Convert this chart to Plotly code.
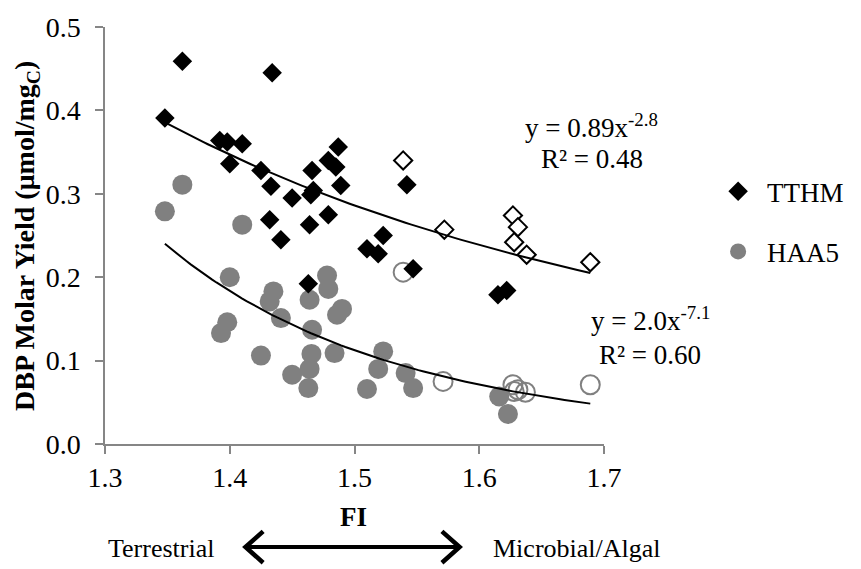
import numpy as np
import plotly.graph_objects as go

# ---------------- data ----------------
tthm_fi = [1.348, 1.362, 1.434, 1.392, 1.398, 1.410, 1.400, 1.425, 1.433, 1.450,
           1.466, 1.465, 1.467, 1.487, 1.479, 1.485, 1.489, 1.432, 1.464, 1.479,
           1.441, 1.463, 1.510, 1.519, 1.523, 1.542, 1.547, 1.615, 1.622]
tthm_y = [0.391, 0.459, 0.445, 0.364, 0.362, 0.360, 0.336, 0.328, 0.309, 0.295,
          0.328, 0.299, 0.304, 0.356, 0.340, 0.332, 0.310, 0.269, 0.263, 0.275,
          0.245, 0.192, 0.234, 0.228, 0.250, 0.311, 0.210, 0.179, 0.184]

tthm_open_fi = [1.539, 1.572, 1.627, 1.631, 1.628, 1.638, 1.689]
tthm_open_y = [0.340, 0.257, 0.274, 0.260, 0.242, 0.227, 0.218]

haa5_fi = [1.348, 1.362, 1.410, 1.400, 1.435, 1.432, 1.441, 1.398, 1.393, 1.425,
           1.478, 1.479, 1.464, 1.490, 1.486, 1.466, 1.4655, 1.484, 1.464, 1.450,
           1.463, 1.510, 1.519, 1.523, 1.541, 1.547, 1.616, 1.623]
haa5_y = [0.279, 0.311, 0.263, 0.200, 0.183, 0.171, 0.151, 0.146, 0.133, 0.106,
          0.202, 0.186, 0.173, 0.162, 0.155, 0.137, 0.108, 0.109, 0.090, 0.083,
          0.067, 0.066, 0.090, 0.111, 0.085, 0.067, 0.057, 0.036]

haa5_open_fi = [1.539, 1.571, 1.627, 1.631, 1.628, 1.637, 1.689]
haa5_open_y = [0.206, 0.075, 0.071, 0.065, 0.063, 0.062, 0.071]

# power-law fit coefficients (y = a * x^b)
tthm_fit = (0.89, -2.8)
haa5_fit = (2.0, -7.1)
tthm_eq = ["y = 0.89x<sup>-2.8</sup>", "R² = 0.48"]
haa5_eq = ["y = 2.0x<sup>-7.1</sup>", "R² = 0.60"]

x_ticks = [1.3, 1.4, 1.5, 1.6, 1.7]
y_ticks = [0.0, 0.1, 0.2, 0.3, 0.4, 0.5]

# ---------------- figure ----------------
FONT = "Liberation Serif, Times New Roman, serif"
GRAY = "#808080"
AXC = "#868686"

W, H = 861, 569
ML, MR, MT, MB = 105, 248, 19, 125
PW, PH = W - ML - MR, H - MT - MB


def px(x):
    return (x - ML) / PW


def py(y):
    return (H - MB - y) / PH


all_fi = tthm_fi + tthm_open_fi
xf = np.linspace(min(all_fi), max(all_fi), 100)

fig = go.Figure()

fig.add_trace(go.Scatter(x=haa5_fi, y=haa5_y, mode="markers", name="HAA5",
                         legendgroup="b", legendrank=2,
                         marker=dict(symbol="circle", size=20, color=GRAY,
                                     line=dict(width=0))))
fig.add_trace(go.Scatter(x=haa5_open_fi, y=haa5_open_y, mode="markers",
                         showlegend=False,
                         marker=dict(symbol="circle", size=19, color="rgba(255,255,255,0)",
                                     line=dict(width=2, color=GRAY))))
fig.add_trace(go.Scatter(x=tthm_fi, y=tthm_y, mode="markers", name="TTHM",
                         legendgroup="a", legendrank=1,
                         marker=dict(symbol="diamond", size=15, color="black",
                                     line=dict(width=0))))
fig.add_trace(go.Scatter(x=tthm_open_fi, y=tthm_open_y, mode="markers",
                         showlegend=False,
                         marker=dict(symbol="diamond", size=14, color="white",
                                     line=dict(width=2, color="black"))))
for a, b in (tthm_fit, haa5_fit):
    fig.add_trace(go.Scatter(x=xf, y=a * xf ** b, mode="lines", showlegend=False,
                             line=dict(color="black", width=2), hoverinfo="skip"))

ann = []
for txt, xx, yy in ((tthm_eq[0], 600, 120), (tthm_eq[1], 601, 154),
                    (haa5_eq[0], 660, 317), (haa5_eq[1], 660, 353)):
    ann.append(dict(text=txt, x=px(xx), y=py(yy), xref="paper", yref="paper",
                    xanchor="center", yanchor="middle", showarrow=False,
                    font=dict(family=FONT, size=27, color="black")))
ann.append(dict(text="<b>FI</b>", x=px(358), y=py(518), xref="paper", yref="paper",
                xanchor="center", yanchor="middle", showarrow=False,
                font=dict(family=FONT, size=27, color="black")))
ann.append(dict(text="Terrestrial", x=px(218), y=py(551), xref="paper", yref="paper",
                xanchor="right", yanchor="middle", showarrow=False,
                font=dict(family=FONT, size=26, color="black")))
ann.append(dict(text="Microbial/Algal", x=px(498), y=py(551), xref="paper", yref="paper",
                xanchor="left", yanchor="middle", showarrow=False,
                font=dict(family=FONT, size=26, color="black")))
ann.append(dict(text="<b>DBP Molar Yield (μmol/mg<sub>C</sub>)</b>", x=px(25), y=0.5,
                xref="paper", yref="paper", xanchor="center", yanchor="middle",
                textangle=-90, showarrow=False,
                font=dict(family=FONT, size=28, color="black")))

AY = 549
shapes = [
    dict(type="line", xref="paper", yref="paper", x0=px(250), x1=px(464), y0=py(AY), y1=py(AY),
         line=dict(color="black", width=4)),
    dict(type="path", xref="paper", yref="paper",
         path=f"M {px(266)},{py(AY-16)} L {px(248)},{py(AY)} L {px(266)},{py(AY+16)}",
         line=dict(color="black", width=4.5)),
    dict(type="path", xref="paper", yref="paper",
         path=f"M {px(448)},{py(AY-16)} L {px(466)},{py(AY)} L {px(448)},{py(AY+16)}",
         line=dict(color="black", width=4.5)),
]

axis_common = dict(showgrid=False, zeroline=False, showline=True, linecolor=AXC,
                   linewidth=1.5, ticks="outside", ticklen=8, tickcolor=AXC, tickwidth=1.5,
                   tickfont=dict(family=FONT, size=28, color="black"))

fig.update_layout(
    width=W, height=H,
    margin=dict(l=ML, r=MR, t=MT, b=MB, pad=0),
    paper_bgcolor="white", plot_bgcolor="white",
    xaxis=dict(range=[1.3, 1.7], tickvals=x_ticks, ticktext=[f"{v:.1f}" for v in x_ticks],
               ticklabelstandoff=0, **axis_common),
    yaxis=dict(range=[0, 0.5], tickvals=y_ticks, ticktext=[f"{v:.1f}" for v in y_ticks],
               ticklabelstandoff=9, **axis_common),
    legend=dict(x=px(720), y=py(162), xanchor="left", yanchor="top",
                font=dict(family=FONT, size=27, color="black"),
                itemwidth=48,
                tracegroupgap=22, bgcolor="rgba(0,0,0,0)"),
    annotations=ann, shapes=shapes,
    showlegend=True,
)

fig.write_html("out.html")
